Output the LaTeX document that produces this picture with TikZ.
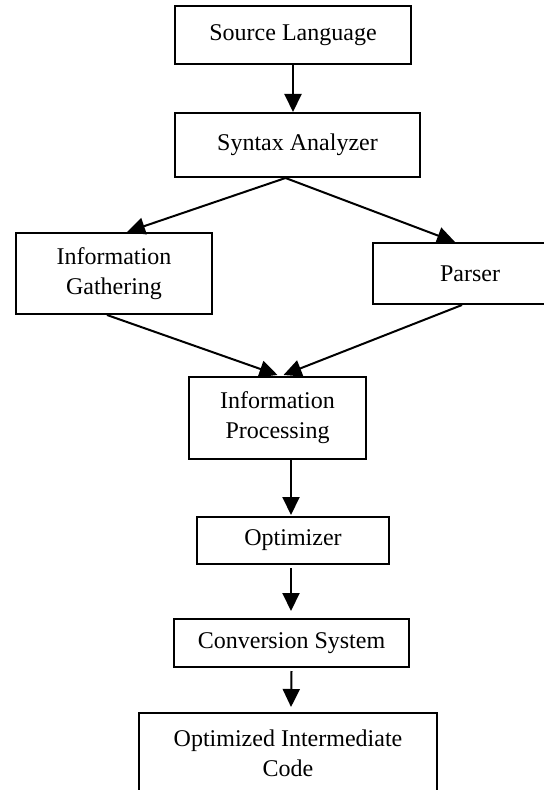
\documentclass[tikz,border=0pt]{standalone}
\usepackage{fontspec}
\setmainfont{Liberation Serif}
\usepackage{tikz}
\usetikzlibrary{arrows.meta, positioning, calc}

\begin{document}
\begin{tikzpicture}[
        x=0.5pt, y=-0.5pt,
        % --- Style Definitions ---
        box_style/.style={rectangle, draw=black, line width=1pt, inner sep=0pt, align=center, font=\fontsize{12}{15}\selectfont},
        arrow/.style={line width=1pt, -{Triangle[length=9pt, width=8.5pt]}}
    ]
        \useasboundingbox (0,0) rectangle (544,790);

        % --- Top of the chain ---
        \node[box_style, minimum width=118pt, minimum height=29pt] (src) at (293,35) {Source Language};
        \node[box_style, minimum width=122.5pt, minimum height=32pt] (syn) at (297.5,145) {Syntax Analyzer};

        % --- Two branches ---
        \node[box_style, minimum width=98pt, minimum height=40.5pt] (gath) at (114,273.5) {Information\\Gathering};
        \node[box_style, minimum width=97pt, minimum height=30.5pt] (parser) at (470,273.5) {Parser};

        % --- Lower chain ---
        \node[box_style, minimum width=88.5pt, minimum height=41pt] (proc) at (277.5,418) {Information\\Processing};
        \node[box_style, minimum width=96pt, minimum height=23.5pt] (opt) at (293,540.5) {Optimizer};
        \node[box_style, minimum width=117.5pt, minimum height=24pt] (conv) at (291.5,643) {Conversion System};
        \node[box_style, minimum width=149pt, minimum height=40pt] (out) at (288,753) {Optimized Intermediate\\Code};

        % --- Helper points ---
        \coordinate (split) at ($(syn.south)+(-12,0)$);

        % --- Data Flow Arrows ---
        \draw[arrow] (src.south) -- (src.south |- syn.north);
        \draw[arrow] (split) -- ($(gath.north)+(13,0)$);
        \draw[arrow] (split) -- ($(parser.north)+(-15,0)$);
        \draw[arrow] ($(gath.south)+(-7,0)$) -- ($(proc.north)+(0,-1)$);
        \draw[arrow] ($(parser.south)+(-8,0)$) -- ($(proc.north)+(6,-1)$);
        \draw[arrow] ($(opt.north |- proc.south)+(-2,0)$) -- ($(opt.north)+(-2,-1)$);
        \draw[arrow] ($(opt.south)+(-2,3)$) -- ($(opt.south)+(-2,46)$);
        \draw[arrow] ($(conv.south)+(0,3)$) -- ($(out.north)+(3,-5)$);

\end{tikzpicture}
\end{document}
